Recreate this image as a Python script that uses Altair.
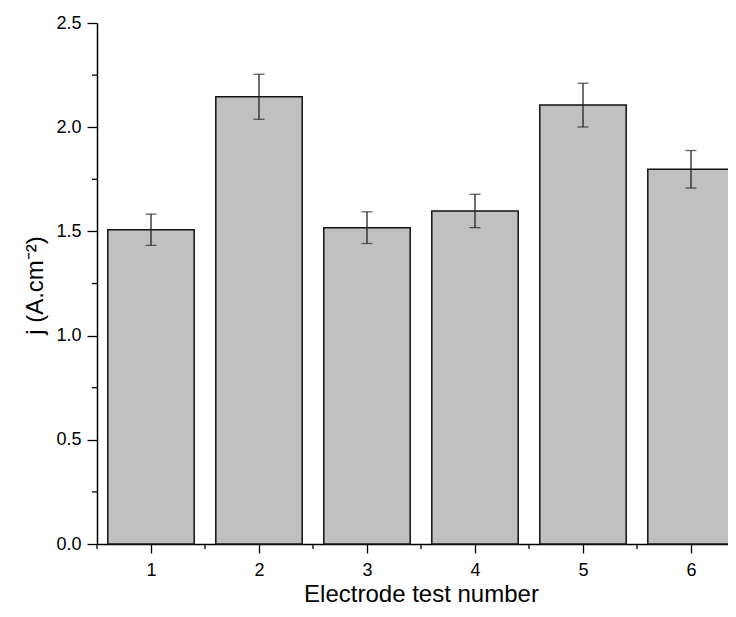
import altair as alt
import pandas as pd

# ---- data ----
tests = [1, 2, 3, 4, 5, 6]
current = [1.508, 2.146, 1.518, 1.598, 2.106, 1.798]
error = [0.075, 0.108, 0.076, 0.080, 0.105, 0.090]

x_major = [1, 2, 3, 4, 5, 6]
x_minor = [0.5, 1.5, 2.5, 3.5, 4.5, 5.5]
y_major = [0.0, 0.5, 1.0, 1.5, 2.0, 2.5]
y_minor = [0.25, 0.75, 1.25, 1.75, 2.25]

W, H = 631, 521
FONT = "Liberation Sans"

df = pd.DataFrame({"x": tests, "j": current, "err": error})

xscale = alt.Scale(domain=[0.5, 0.5 + W / 108.0], nice=False, zero=False)
yscale = alt.Scale(domain=[0, 2.5], nice=False, zero=False)

x_axis = alt.Axis(
    values=x_major, format="d", grid=False, tickSize=9, tickWidth=1.3,
    tickColor="black", domainColor="black", domainWidth=1.5,
    labelFont=FONT, labelFontSize=18, labelColor="black", labelPadding=8,
    title="Electrode test number", titleFont=FONT, titleFontSize=24,
    titleFontWeight="normal", titleColor="black",
    titleX=324, titleY=57, titleBaseline="alphabetic", titleAlign="center",
)
y_axis = alt.Axis(
    values=y_major, format=".1f", grid=False, tickSize=10, tickWidth=1.3,
    tickColor="black", domainColor="black", domainWidth=1.5,
    labelFont=FONT, labelFontSize=18, labelColor="black", labelPadding=6,
    title="j (A.cm⁻²)", titleFont=FONT, titleFontSize=24,
    titleFontWeight="normal", titleColor="black", titleAngle=-90,
    titleX=-55, titleY=262, titleBaseline="alphabetic", titleAlign="center",
)

X = lambda f: alt.X(f, type="quantitative", scale=xscale, axis=x_axis)
Y = lambda f: alt.Y(f, type="quantitative", scale=yscale, axis=y_axis)

base = alt.Chart(df).transform_calculate(
    left="datum.x - 0.4", right="datum.x + 0.4",
    lo="datum.j - datum.err", hi="datum.j + datum.err",
)

bars = base.mark_bar(fill="#c0c0c0", stroke="#111111", strokeWidth=1.5).encode(
    x=X("left"), x2="right", y=Y("j"), y2=alt.datum(0)
)

err_rule = base.mark_rule(color="#222222", strokeWidth=1.3).encode(
    x=X("x"), y=Y("lo"), y2="hi"
)
cap_lo = base.mark_tick(orient="horizontal", size=11, thickness=1.3, color="#222222").encode(
    x=X("x"), y=Y("lo")
)
cap_hi = base.mark_tick(orient="horizontal", size=11, thickness=1.3, color="#222222").encode(
    x=X("x"), y=Y("hi")
)

xm = alt.Chart(pd.DataFrame({"v": x_minor})).mark_rule(color="black", strokeWidth=1.3).encode(
    x=X("v"), y=alt.value(H), y2=alt.value(H + 5)
)
ym = alt.Chart(pd.DataFrame({"v": y_minor})).mark_rule(color="black", strokeWidth=1.3).encode(
    y=Y("v"), x=alt.value(-5), x2=alt.value(0)
)

chart = alt.layer(bars, err_rule, cap_lo, cap_hi, xm, ym).properties(
    width=W, height=H,
    autosize="none",
    background="white",
    padding={"left": 89, "top": 15, "right": 0, "bottom": 61},
).configure_view(stroke=None)

chart.save("out.html", embed_options={"renderer": "svg", "actions": False})
